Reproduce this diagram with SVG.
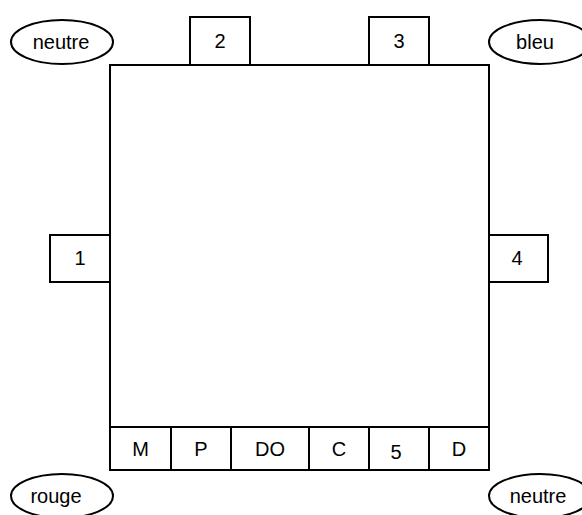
<svg xmlns="http://www.w3.org/2000/svg" width="582" height="515" viewBox="0 0 582 515">
<style>
.s{fill:#fff;stroke:#000;stroke-width:2}
.t{font-family:"Liberation Sans",Arial,sans-serif;font-size:20px;fill:#000;text-anchor:middle}
</style>
<rect width="582" height="515" fill="#fff"/>
<g id="main"><rect class="s" x="110" y="65" width="379" height="405"/></g>
<g id="n2"><rect class="s" x="190" y="17" width="60" height="48"/><text class="t" x="220" y="48">2</text></g>
<g id="n3"><rect class="s" x="369" y="17" width="60" height="48"/><text class="t" x="399" y="48">3</text></g>
<g id="n1"><rect class="s" x="50" y="235" width="60" height="47"/><text class="t" x="80" y="265">1</text></g>
<g id="n4"><rect class="s" x="489" y="235" width="59" height="47"/><text class="t" x="517" y="265">4</text></g>
<g id="cM"><rect class="s" x="110" y="427" width="61" height="43"/><text class="t" x="140.5" y="456">M</text></g>
<g id="cP"><rect class="s" x="171" y="427" width="60" height="43"/><text class="t" x="201" y="456">P</text></g>
<g id="cDO"><rect class="s" x="231" y="427" width="78" height="43"/><text class="t" x="270" y="456">DO</text></g>
<g id="cC"><rect class="s" x="309" y="427" width="60" height="43"/><text class="t" x="339" y="456">C</text></g>
<g id="c5"><rect class="s" x="369" y="427" width="60" height="43"/><text class="t" x="396" y="459">5</text></g>
<g id="cD"><rect class="s" x="429" y="427" width="60" height="43"/><text class="t" x="459" y="456">D</text></g>
<g id="e1"><ellipse class="s" cx="62" cy="42" rx="51" ry="22"/><text class="t" x="61" y="49">neutre</text></g>
<g id="e2"><ellipse class="s" cx="540" cy="42" rx="51" ry="22"/><text class="t" x="535" y="49">bleu</text></g>
<g id="e3"><ellipse class="s" cx="62" cy="496" rx="51" ry="22"/><text class="t" x="56" y="503">rouge</text></g>
<g id="e4"><ellipse class="s" cx="540" cy="496" rx="51" ry="22"/><text class="t" x="538" y="503">neutre</text></g>
<g id="connectors"></g>
</svg>
